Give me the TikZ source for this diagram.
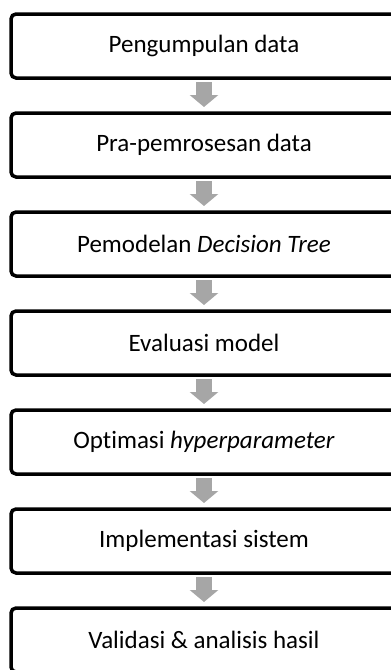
\documentclass[tikz,border=0pt]{standalone}
\usepackage{fontspec}
\setmainfont{Carlito}[Ligatures=NoCommon]
\usepackage{tikz}
\usetikzlibrary{positioning,arrows.meta}

\definecolor{arrowgray}{HTML}{A6A6A6}

\begin{document}
\begin{tikzpicture}[x=1pt,y=1pt]
        \tikzstyle{every node}=[draw, line width=3.5pt, rounded corners=5pt, outer sep=0pt,
            minimum width=386pt, minimum height=64pt, font=\fontsize{25}{30}\selectfont]
        \tikzstyle{flow}=[draw=arrowgray, line width=16pt, shorten <=4pt, shorten >=6pt,
            -{Triangle[width=28pt,length=12pt]}]
        \useasboundingbox (0,0) rectangle (391,-670);

        \node   (collect)   at (204,-46)            {Pengumpulan data};
        \node   (prep)      [below=35pt of collect] {Pra-pemrosesan data};
        \node   (model)     [below=35pt of prep]    {Pemodelan \textit{Decision Tree}};
        \node   (eval)      [below=35pt of model]   {Evaluasi model};
        \node   (tune)      [below=35pt of eval]    {Optimasi \textit{hyperparameter}};
        \node   (deploy)    [below=35pt of tune]    {Implementasi sistem};
        \node   (validate)  [below=35pt of deploy]  {Validasi \& analisis hasil};

        \foreach \a/\b in {collect/prep, prep/model, model/eval, eval/tune, tune/deploy, deploy/validate}
            \draw[flow] (\a.south) -- (\b.north);

    \end{tikzpicture}
\end{document}
